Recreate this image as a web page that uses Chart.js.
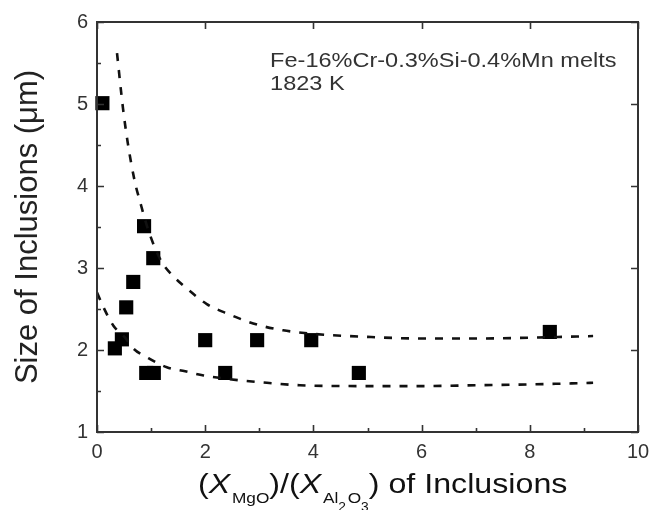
<!DOCTYPE html>
<html>
<head>
<meta charset="utf-8">
<script src="https://cdn.jsdelivr.net/npm/chart.js@4/dist/chart.umd.min.js"></script>
<style>
  html, body { margin: 0; padding: 0; background: #fff; }
  #c { display: block; }
</style>
</head>
<body>
<canvas id="c" width="660" height="510"></canvas>
<script>
// Measured inclusion sizes vs. MgO/Al2O3 ratio
const ratioX = [0.10, 0.87, 1.04, 0.67, 0.54, 0.46, 0.33, 0.91, 1.05, 2.37, 2.00, 2.96, 3.96, 4.84, 8.37];
const sizeY  = [5.01, 3.51, 3.12, 2.83, 2.52, 2.13, 2.02, 1.72, 1.72, 1.72, 2.12, 2.12, 2.12, 1.72, 2.22];

// Upper trend line (dashed)
const upperX = [0.37, 0.48, 0.57, 0.70, 0.80, 0.92, 1.05, 1.20, 1.41, 1.66, 2.03, 2.46, 2.77, 3.07, 3.44, 3.94, 5.00, 6.00, 7.00, 8.00, 9.17];
const upperY = [5.62, 4.95, 4.52, 4.05, 3.80, 3.52, 3.28, 3.07, 2.90, 2.75, 2.56, 2.43, 2.35, 2.29, 2.24, 2.20, 2.16, 2.14, 2.14, 2.15, 2.17];

// Lower trend line (dashed)
const lowerX = [0.00, 0.12, 0.30, 0.52, 0.67, 0.95, 1.29, 1.63, 1.97, 2.64, 3.14, 3.75, 5.00, 6.00, 7.00, 8.00, 9.17];
const lowerY = [2.70, 2.52, 2.30, 2.15, 2.02, 1.90, 1.79, 1.74, 1.69, 1.63, 1.60, 1.57, 1.56, 1.56, 1.57, 1.58, 1.60];

// Axis ranges and labels
const xRange = [0, 10];
const yRange = [1, 6];
const xLabelTicks = [0, 2, 4, 6, 8, 10];
const yLabelTicks = [1, 2, 3, 4, 5, 6];

const yTitleText = 'Size of Inclusions (\u03BCm)';
const noteLines = ['Fe-16%Cr-0.3%Si-0.4%Mn melts', '1823 K'];
// x-axis title pieces: text + typographic role
const xTitleParts = [
  ['(', 'main'], ['X', 'ital'], ['MgO', 'sub'], [')/(', 'main'], ['X', 'ital'],
  ['Al', 'sub'], ['2', 'subsub'], ['O', 'sub'], ['3', 'subsub'], [') of Inclusions', 'main']
];

const FONT = '"Liberation Sans", Arial, Helvetica, sans-serif';
const zip = (xs, ys) => xs.map((v, i) => ({ x: v, y: ys[i] }));

// Box frame with inward major/minor ticks
const frameTicks = {
  id: 'frameTicks',
  afterDraw(chart) {
    const { ctx, chartArea: a, scales: { x, y } } = chart;
    ctx.save();
    ctx.strokeStyle = '#333';
    ctx.lineWidth = 2;
    ctx.strokeRect(a.left, a.top, a.right - a.left, a.bottom - a.top);
    ctx.lineWidth = 1.6;
    ctx.beginPath();
    x.ticks.forEach(t => {
      const px = Math.round(x.getPixelForValue(t.value)) + 0.5;
      const major = xLabelTicks.includes(t.value);
      const len = major ? 7 : 4;
      ctx.moveTo(px, a.bottom); ctx.lineTo(px, a.bottom - len);
      if (major) { ctx.moveTo(px, a.top); ctx.lineTo(px, a.top + len); }
    });
    y.ticks.forEach(t => {
      const py = Math.round(y.getPixelForValue(t.value)) + 0.5;
      const major = yLabelTicks.includes(t.value);
      const len = major ? 7 : 4;
      ctx.moveTo(a.left, py); ctx.lineTo(a.left + len, py);
      if (major) { ctx.moveTo(a.right, py); ctx.lineTo(a.right - len, py); }
    });
    ctx.stroke();
    ctx.restore();
  }
};

// Annotation and x-axis title with subscripts
const textLayer = {
  id: 'textLayer',
  afterDraw(chart) {
    const { ctx, scales: { x, y } } = chart;
    ctx.save();
    ctx.fillStyle = '#333';
    ctx.textBaseline = 'alphabetic';
    ctx.textAlign = 'left';
    ctx.font = '21px ' + FONT;
    const nx = x.getPixelForValue(3.2);
    const ny = [y.getPixelForValue(5.45), y.getPixelForValue(5.17)];
    noteLines.forEach((line, i) => {
      ctx.save();
      ctx.translate(nx, ny[i]);
      ctx.scale(1.12, 1);
      ctx.fillText(line, 0, 0);
      ctx.restore();
    });

    const styles = {
      main:   { font: '28px ' + FONT, dy: 0 },
      ital:   { font: 'italic 28px ' + FONT, dy: 0 },
      sub:    { font: '15px ' + FONT, dy: 10 },
      subsub: { font: '12px ' + FONT, dy: 18 }
    };
    ctx.fillStyle = '#111';
    ctx.translate(198, 493);
    ctx.scale(1.15, 1);
    let cur = 0;
    xTitleParts.forEach(([txt, role]) => {
      const s = styles[role];
      ctx.font = s.font;
      if (role === 'sub') cur += 1.5;
      ctx.fillText(txt, cur, s.dy);
      cur += ctx.measureText(txt).width;
    });
    ctx.restore();
  }
};

new Chart(document.getElementById('c'), {
  type: 'scatter',
  data: {
    datasets: [
      {
        type: 'line',
        data: zip(upperX, upperY),
        borderColor: '#111',
        borderWidth: 2.6,
        borderDash: [8, 9],
        pointRadius: 0,
        cubicInterpolationMode: 'monotone',
        fill: false,
        order: 0
      },
      {
        type: 'line',
        data: zip(lowerX, lowerY),
        borderColor: '#111',
        borderWidth: 2.6,
        borderDash: [8, 9],
        pointRadius: 0,
        cubicInterpolationMode: 'monotone',
        fill: false,
        order: 0
      },
      {
        data: zip(ratioX, sizeY),
        pointStyle: 'rect',
        pointRadius: 10,
        backgroundColor: '#000',
        borderWidth: 0,
        clip: false,
        order: 1
      }
    ]
  },
  options: {
    responsive: false,
    devicePixelRatio: 1,
    animation: false,
    layout: { padding: { left: 0, right: 22, top: 22, bottom: 0 } },
    plugins: { legend: { display: false }, tooltip: { enabled: false } },
    scales: {
      x: {
        type: 'linear',
        min: xRange[0], max: xRange[1],
        grid: { display: false, drawTicks: false },
        border: { display: false },
        ticks: {
          stepSize: 1,
          padding: 8,
          color: '#333',
          font: { family: FONT, size: 20 },
          callback: v => xLabelTicks.includes(v) ? String(v) : ''
        },
        afterFit(scale) { scale.height = 78; }
      },
      y: {
        type: 'linear',
        min: yRange[0], max: yRange[1],
        grid: { display: false, drawTicks: false },
        border: { display: false },
        ticks: {
          stepSize: 0.5,
          padding: 9,
          color: '#333',
          font: { family: FONT, size: 20 },
          callback: v => yLabelTicks.includes(v) ? String(v) : ''
        },
        title: {
          display: true,
          text: yTitleText,
          color: '#222',
          font: { family: FONT, size: 31 },
          padding: { top: 10, bottom: 0 }
        },
        afterFit(scale) { scale.width = 97; }
      }
    }
  },
  plugins: [frameTicks, textLayer]
});
</script>
</body>
</html>
